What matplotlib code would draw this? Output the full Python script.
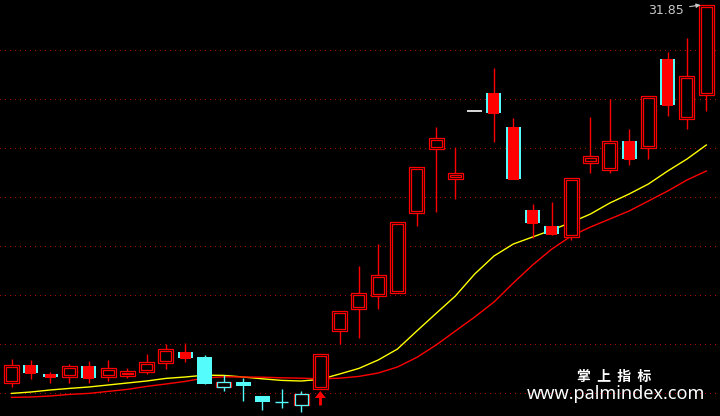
import numpy as np
import matplotlib
matplotlib.use("Agg")
import matplotlib.pyplot as plt
from matplotlib.patches import Rectangle, Polygon

# candle data
kinds  = ['up','dn','dn','up','dn','up','up','up','up','dn',
          'cdn','cup','cdn','cdn','cross','cup','up','up','up','up',
          'up','up','up','up','flat','dn','dn','dn','dn','up',
          'up','up','dn','up','dn','up','up']
opens  = [12.95,13.85,13.40,13.25,13.80,13.25,13.30,13.50,13.95,14.50,
          14.25,12.75,13.00,12.30,12.00,11.85,12.65,15.55,16.65,17.30,
          17.45,21.45,24.65,23.15,26.55,27.45,25.75,21.60,20.80,20.25,
          23.95,23.60,25.05,24.70,29.15,26.15,27.35]
highs  = [14.15,14.10,13.50,13.90,14.05,14.10,13.70,14.40,14.90,14.95,
          14.35,13.35,13.20,12.30,12.65,12.55,14.40,16.55,18.80,19.90,
          21.00,23.75,25.75,24.75,26.55,28.70,26.20,21.90,22.00,23.20,
          26.25,27.15,25.65,27.30,29.50,30.20,31.85]
lows   = [12.75,13.15,12.95,12.95,12.95,13.05,13.20,13.40,13.65,14.00,
          12.90,12.55,12.05,11.60,11.70,11.50,12.65,14.90,15.20,16.65,
          17.45,20.80,21.50,22.15,26.55,25.00,23.15,20.20,20.35,20.10,
          23.45,23.45,23.85,24.15,26.30,25.65,26.55]
closes = [13.85,13.45,13.25,13.80,13.20,13.70,13.55,14.00,14.65,14.20,
          12.90,13.00,12.80,12.00,12.00,12.40,14.40,16.55,17.45,18.35,
          21.00,23.75,25.20,23.45,26.55,26.45,23.15,20.95,20.40,23.20,
          24.30,25.05,24.15,27.30,26.85,28.30,31.85]

ma_yellow = [12.43,12.50,12.60,12.68,12.75,12.85,12.95,13.05,13.18,13.25,
             13.34,13.33,13.25,13.16,13.08,13.05,13.13,13.40,13.68,14.10,
             14.65,15.55,16.43,17.30,18.40,19.30,19.90,20.25,20.60,20.98,
             21.40,21.95,22.40,22.90,23.55,24.15,24.85]
ma_red    = [12.23,12.25,12.30,12.38,12.43,12.53,12.63,12.78,12.90,13.03,
             13.20,13.26,13.25,13.24,13.21,13.19,13.16,13.19,13.28,13.45,
             13.75,14.23,14.85,15.55,16.25,17.00,17.95,18.85,19.65,20.30,
             20.75,21.15,21.55,22.05,22.55,23.10,23.55]

grid_levels = [29.60, 27.15, 24.70, 22.25, 19.80, 17.35, 14.90, 12.45]
last_label = "31.85"
arrow_idx = 16

RED = '#ff0000'
CYAN = '#54fcfc'

fig = plt.figure(figsize=(7.2, 4.16), dpi=100, facecolor='black')
ax = fig.add_axes([0, 0, 1, 1], facecolor='black')
ax.set_xlim(-0.596, 36.71)
ax.set_ylim(11.30, 32.10)
ax.axis('off')

px_x = 1 / 19.3   # one pixel in x units
px_y = 0.05       # one pixel in price units
hw = 7.5 * px_x
LW = 0.9

for g in grid_levels:
    ax.axhline(g, color='#b00000', lw=0.72, ls=(0, (1, 5)), zorder=1, antialiased=False)

ax.plot(range(len(ma_yellow)), ma_yellow, color='#ffff00', lw=1, zorder=2)
ax.plot(range(len(ma_red)), ma_red, color=RED, lw=1, zorder=2)


def box(x0, y0, w, h, **kw):
    ax.add_patch(Rectangle((x0, y0), w, h, **kw))


def wick(i, l, h, col):
    ax.vlines(i, l, h, color=col, lw=1, zorder=3)


for i, k in enumerate(kinds):
    o, h, l, c = opens[i], highs[i], lows[i], closes[i]
    lo, hi = min(o, c), max(o, c)
    if k == 'up':
        wick(i, l, h, RED)
        box(i - hw, lo, 2 * hw, hi - lo, fc='black', ec=RED, lw=LW, zorder=4)
        box(i - hw + 2 * px_x, lo + 2 * px_y, 2 * hw - 4 * px_x, hi - lo - 4 * px_y,
            fc='none', ec=RED, lw=LW, zorder=5)
    elif k == 'dn':
        wick(i, l, h, RED)
        box(i - hw, lo, 2 * hw, hi - lo, fc=CYAN, ec='none', zorder=4)
        box(i - hw + 2 * px_x, lo - px_y, 2 * hw - 4 * px_x, hi - lo + px_y, fc=RED, ec='none', zorder=5)
    elif k == 'cdn':
        wick(i, l, h, CYAN)
        box(i - hw, lo, 2 * hw, hi - lo, fc=CYAN, ec='none', zorder=4)
    elif k == 'cup':
        wick(i, l, h, CYAN)
        box(i - hw, lo, 2 * hw, hi - lo, fc='black', ec=RED, lw=LW, zorder=4)
        box(i - hw + px_x, lo, 2 * hw - 2 * px_x, hi - lo, fc='none', ec=CYAN, lw=LW, zorder=5)
    elif k == 'cross':
        wick(i, l, h, CYAN)
        ax.hlines(c, i - 6.5 * px_x, i + 6.5 * px_x, color=CYAN, lw=1, zorder=4)
    elif k == 'flat':
        ax.hlines(c, i - hw, i + hw, color='white', lw=1.2, zorder=4)

# red arrow under the breakout candle
tip = lows[arrow_idx] - 2 * px_y
ax.add_patch(Polygon([(arrow_idx - 5.5 * px_x, tip - 7 * px_y), (arrow_idx + 5.5 * px_x, tip - 7 * px_y),
                      (arrow_idx, tip)], closed=True, fc=RED, ec='none', zorder=5))
ax.vlines(arrow_idx, tip - 14 * px_y, tip - 6 * px_y, color=RED, lw=2, zorder=5)

# last price label
ax.annotate(last_label, xy=(36 - 0.3, highs[-1]), xytext=(34.85, highs[-1] - 5 * px_y),
            color='#c8c8c8', fontsize=9, ha='right', va='center',
            family=['Liberation Sans Narrow', 'DejaVu Sans'],
            arrowprops=dict(arrowstyle='-|>', color='#c8c8c8', lw=0.8, mutation_scale=6,
                            shrinkA=2, shrinkB=0), zorder=6)

# watermark
ax.text(0.853, 0.094, "掌  上  指  标", transform=ax.transAxes, color='white', fontsize=10,
        fontweight='bold', ha='center', va='center', family=['Noto Sans CJK SC', 'DejaVu Sans'])
ax.text(0.855, 0.052, "www.palmindex.com", transform=ax.transAxes, color='white', fontsize=13,
        ha='center', va='center', family=['Noto Sans', 'DejaVu Sans'])

plt.savefig("out.png", dpi=100, facecolor='black')
plt.close()
